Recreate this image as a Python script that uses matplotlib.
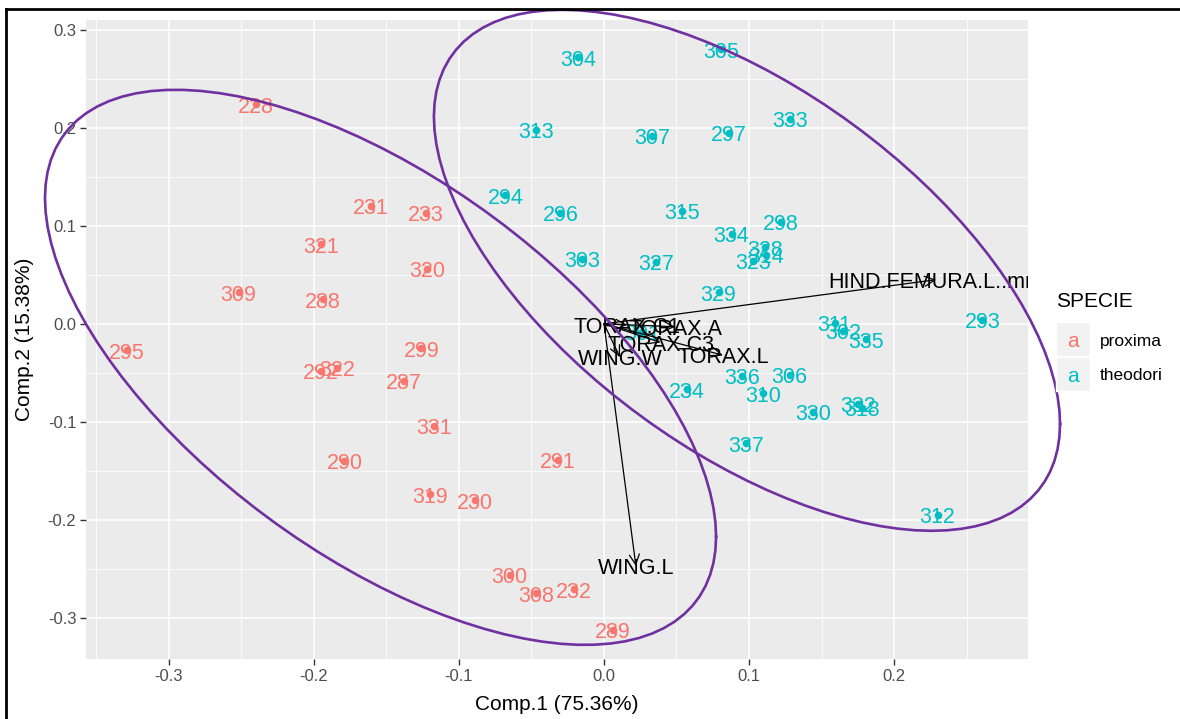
import matplotlib
matplotlib.use("Agg")
import matplotlib.pyplot as plt
from matplotlib.lines import Line2D
from matplotlib.patches import Rectangle
import numpy as np

plt.rcParams["font.family"] = ["Liberation Sans", "DejaVu Sans"]

##########################
## Data (PCA scores)

species = ["proxima", "theodori"]
colors = ["#F8766D", "#00BFC4"]

proxima_id = ["228", "231", "233", "321", "320", "309", "288", "295", "299", "292", "322",
              "287", "331", "290", "291", "319", "230", "300", "308", "232", "289"]
proxima_x = [-0.240, -0.161, -0.123, -0.195, -0.122, -0.252, -0.194, -0.329, -0.126, -0.195, -0.184,
             -0.138, -0.117, -0.179, -0.032, -0.120, -0.089, -0.065, -0.047, -0.021, 0.006]
proxima_y = [0.224, 0.120, 0.113, 0.081, 0.056, 0.032, 0.025, -0.027, -0.025, -0.048, -0.045,
             -0.058, -0.104, -0.140, -0.139, -0.174, -0.180, -0.256, -0.275, -0.271, -0.312]

theodori_id = ["304", "305", "313", "307", "297", "333", "294", "296", "315", "298", "334",
               "328", "314", "323", "303", "327", "329", "311", "302", "335", "293", "336",
               "306", "234", "310", "330", "332", "318", "337", "312", "301"]
theodori_x = [-0.018, 0.081, -0.047, 0.033, 0.086, 0.128, -0.068, -0.030, 0.054, 0.122, 0.088,
              0.111, 0.112, 0.103, -0.015, 0.036, 0.079, 0.159, 0.165, 0.181, 0.261, 0.095,
              0.128, 0.057, 0.110, 0.144, 0.175, 0.178, 0.098, 0.230, 0.026]
theodori_y = [0.272, 0.280, 0.198, 0.192, 0.195, 0.209, 0.131, 0.113, 0.115, 0.104, 0.092,
              0.078, 0.070, 0.064, 0.066, 0.063, 0.032, 0.001, -0.007, -0.016, 0.004, -0.053,
              -0.052, -0.067, -0.071, -0.090, -0.082, -0.086, -0.122, -0.195, -0.008]

# loadings (arrow tips)
load_names = ["HIND.FEMURA.L..mm", "WING.L", "TORAX.L", "TORAX.C3", "TORAX.A", "TORAX.C1", "WING.W"]
load_x = [0.229, 0.022, 0.082, 0.039, 0.049, 0.016, 0.011]
load_y = [0.045, -0.247, -0.032, -0.019, -0.003, -0.001, -0.034]

# group ellipses: centre, half extent in x / y, correlation
ell_cx = [-0.1541, 0.0986]
ell_cy = [-0.0444, 0.0546]
ell_hx = [0.2314, 0.2159]
ell_hy = [0.2832, 0.2658]
ell_rho = [-0.61, -0.59]

x_ticks = [-0.3, -0.2, -0.1, 0.0, 0.1, 0.2]
y_ticks = [-0.3, -0.2, -0.1, 0.0, 0.1, 0.2, 0.3]


def ellipse_path(cx, cy, hx, hy, rho, segments=100):
    shape = np.array([[hx * hx, rho * hx * hy], [rho * hx * hy, hy * hy]])
    chol = np.linalg.cholesky(shape).T
    theta = np.linspace(0, 2 * np.pi, segments + 1)
    circle = np.column_stack([np.cos(theta), np.sin(theta)])
    return np.array([cx, cy]) + circle @ chol


##########################
## Plot

W, H = 1180, 719
fig = plt.figure(figsize=(W / 100, H / 100), dpi=100)
fig.patch.set_facecolor("white")

ax = fig.add_axes([86 / W, 1 - 659 / H, (1028 - 86) / W, (659 - 20) / H])
ax.set_facecolor("#EBEBEB")
ax.set_xlim(-0.3572, 0.2924)
ax.set_ylim(-0.342, 0.310)

ax.set_xticks(x_ticks)
ax.set_yticks(y_ticks)
ax.set_xticks([-0.35, -0.25, -0.15, -0.05, 0.05, 0.15, 0.25], minor=True)
ax.set_yticks(np.array(y_ticks[:-1]) + 0.05, minor=True)
ax.grid(which="major", color="white", lw=1.1)
ax.grid(which="minor", color="white", lw=0.55)
ax.set_axisbelow(True)
for s in ax.spines.values():
    s.set_visible(False)
ax.tick_params(which="major", length=4, width=1, color="#333333",
               labelsize=12, labelcolor="#4D4D4D", pad=3)
ax.tick_params(which="minor", length=0)
ax.set_xticklabels([f"{t:.1f}" for t in x_ticks])
ax.set_yticklabels([f"{t:.1f}" for t in y_ticks])
ax.set_xlabel("Comp.1 (75.36%)", fontsize=15, labelpad=8)
ax.set_ylabel("Comp.2 (15.38%)", fontsize=15, labelpad=10)

groups = [
    (proxima_id, proxima_x, proxima_y, colors[0]),
    (theodori_id, theodori_x, theodori_y, colors[1]),
]

for ids, xs, ys, col in groups:
    ax.scatter(xs, ys, s=30, color=col, zorder=3, linewidths=0)
    for lab, xx, yy in zip(ids, xs, ys):
        ax.annotate(lab, (xx, yy), xytext=(0, -2), textcoords="offset points",
                    ha="center", va="center", fontsize=15.5, color=col,
                    zorder=4, annotation_clip=True)

# loadings arrows + labels (labels clipped to the panel, as in the original)
for name, lx, ly in zip(load_names, load_x, load_y):
    ax.annotate("", xy=(lx, ly), xytext=(0, 0),
                arrowprops=dict(arrowstyle="->", color="black", lw=0.9,
                                mutation_scale=18, shrinkA=0, shrinkB=0),
                zorder=5)
    t = ax.annotate(name, (lx, ly), xytext=(0, -2), textcoords="offset points",
                    ha="center", va="center", fontsize=15.5, color="black", zorder=6)
    t.set_clip_box(ax.bbox)
    t.set_clip_on(True)

# ellipses (drawn unclipped, like the original)
for i in range(len(species)):
    e = ellipse_path(ell_cx[i], ell_cy[i], ell_hx[i], ell_hy[i], ell_rho[i])
    ax.plot(e[:, 0], e[:, 1], color="#7030A0", lw=1.9, zorder=7, clip_on=False)

# legend
fig.text(1056 / W, 1 - 302 / H, "SPECIE", fontsize=15, va="center", ha="left")
for i, (name, col) in enumerate(zip(species, colors)):
    top = 322 + i * 35
    fig.patches.append(Rectangle((1056 / W, 1 - (top + 34) / H), 34 / W, 34 / H,
                                 transform=fig.transFigure, facecolor="#F2F2F2",
                                 edgecolor="white", lw=1))
    fig.text(1073 / W, 1 - (top + 19) / H, "a", color=col, fontsize=15,
             ha="center", va="center")
    fig.text(1100 / W, 1 - (top + 19) / H, name, fontsize=12.5, ha="left", va="center")

# outer frame lines (left and top)
fig.add_artist(Line2D([6 / W, 6 / W], [0, 1 - 8.5 / H], color="black", lw=2,
                      transform=fig.transFigure))
fig.add_artist(Line2D([6 / W, 1], [1 - 8.5 / H, 1 - 8.5 / H], color="black", lw=2,
                      transform=fig.transFigure))

fig.savefig("out.png", dpi=100)
